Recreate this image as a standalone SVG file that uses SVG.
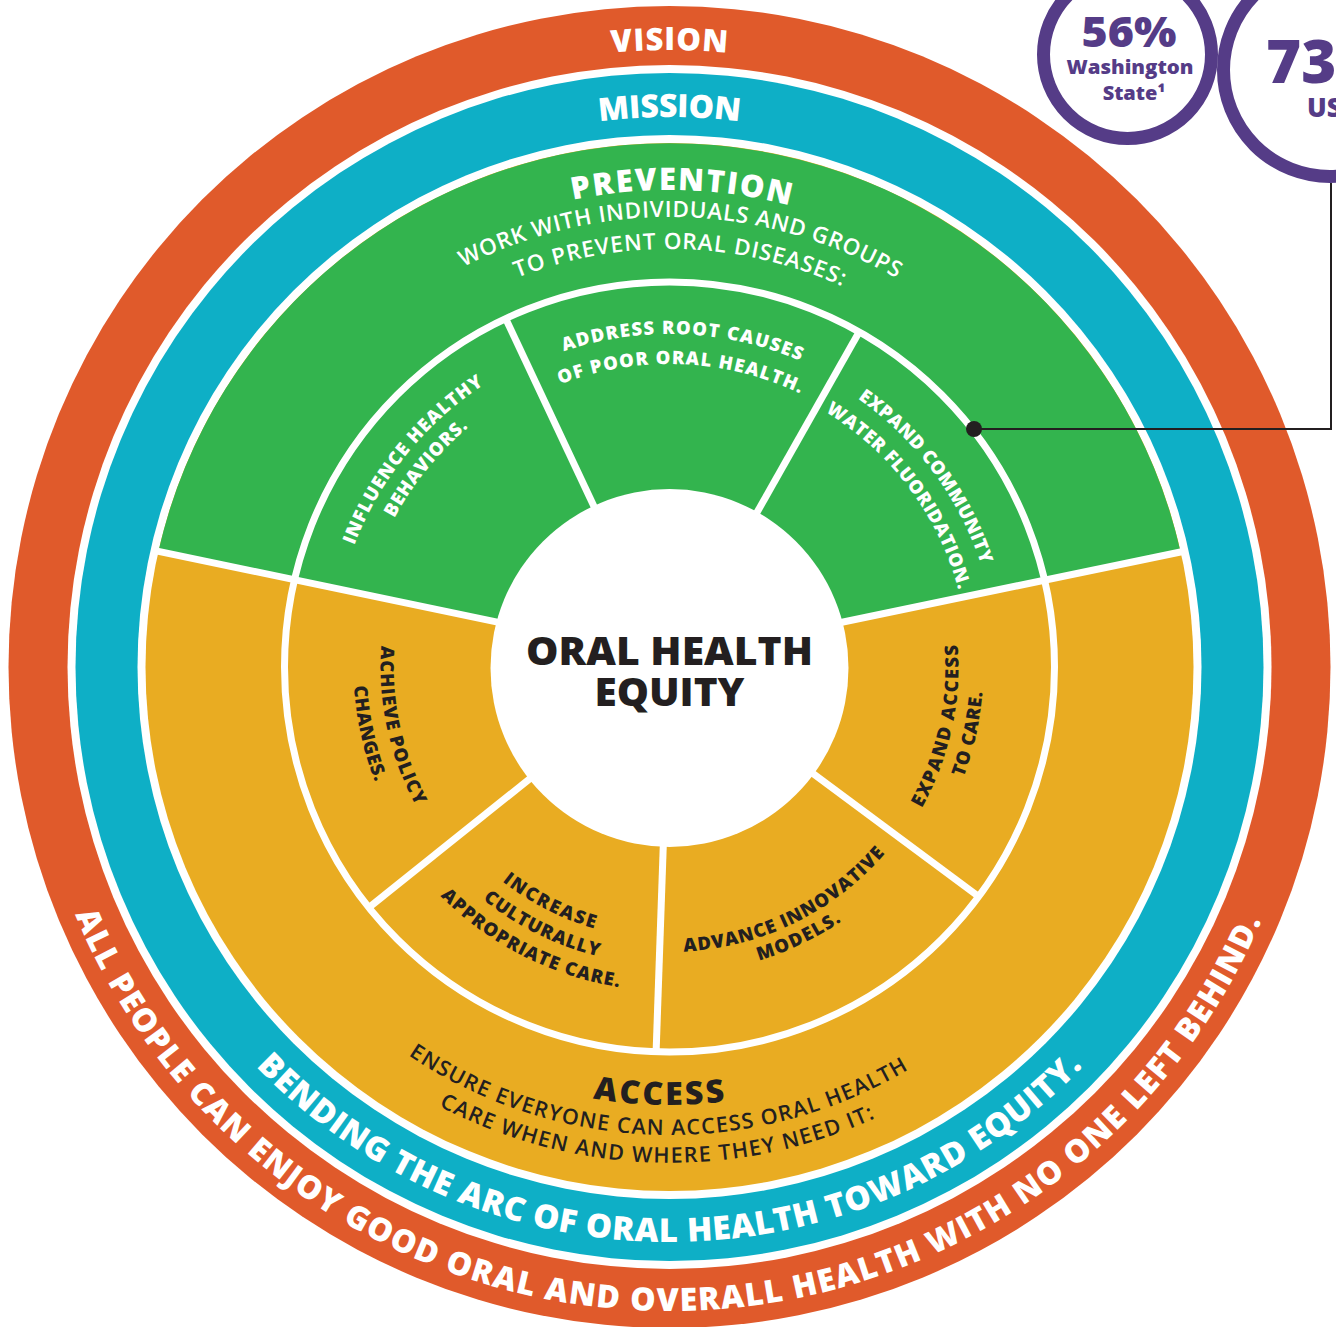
<svg xmlns="http://www.w3.org/2000/svg" width="1336" height="1327" viewBox="0 0 1336 1327">
<style>
.f{font-family:"Open Sans","Liberation Sans",sans-serif}
.b{font-weight:800}
.m{font-weight:600}
.w{fill:#ffffff}
.d{fill:#231f20}
.p{fill:#553c87}
.wl{stroke:#ffffff;stroke-width:7;fill:none}
</style>
<defs>
<path id="t617" d="M52.5,667 A617,617 0 0 1 1286.5,667"/>
<path id="t550" d="M119.5,667 A550,550 0 0 1 1219.5,667"/>
<path id="t477" d="M192.5,667 A477,477 0 0 1 1146.5,667"/>
<path id="t450" d="M219.5,667 A450,450 0 0 1 1119.5,667"/>
<path id="t418" d="M251.5,667 A418,418 0 0 1 1087.5,667"/>
<path id="t338" d="M331.5,667 A338,338 0 0 1 1007.5,667"/>
<path id="t333" d="M336.5,667 A333,333 0 0 1 1002.5,667"/>
<path id="t328" d="M341.5,667 A328,328 0 0 1 997.5,667"/>
<path id="t313" d="M356.5,667 A313,313 0 0 1 982.5,667"/>
<path id="t303" d="M366.5,667 A303,303 0 0 1 972.5,667"/>
<path id="t299" d="M370.5,667 A299,299 0 0 1 968.5,667"/>
<path id="b272" d="M397.5,667 A272,272 0 0 0 941.5,667"/>
<path id="b285" d="M384.5,667 A285,285 0 0 0 954.5,667"/>
<path id="b289" d="M380.5,667 A289,289 0 0 0 958.5,667"/>
<path id="b298" d="M371.5,667 A298,298 0 0 0 967.5,667"/>
<path id="b307" d="M362.5,667 A307,307 0 0 0 976.5,667"/>
<path id="b314" d="M355.5,667 A314,314 0 0 0 983.5,667"/>
<path id="b316" d="M353.5,667 A316,316 0 0 0 985.5,667"/>
<path id="b324" d="M345.5,667 A324,324 0 0 0 993.5,667"/>
<path id="b438" d="M231.5,667 A438,438 0 0 0 1107.5,667"/>
<path id="b468" d="M201.5,667 A468,468 0 0 0 1137.5,667"/>
<path id="b496" d="M173.5,667 A496,496 0 0 0 1165.5,667"/>
<path id="b575" d="M94.5,667 A575,575 0 0 0 1244.5,667"/>
<path id="b644" d="M25.5,667 A644,644 0 0 0 1313.5,667"/>
</defs>
<rect width="1336" height="1327" fill="#ffffff"/>

<g id="stats">
<g id="stat-wa">
<circle cx="1127.5" cy="54.5" r="84" fill="#ffffff" stroke="#553c87" stroke-width="13"/>
<text class="f b p" x="1129" y="46.5" font-size="42" text-anchor="middle" textLength="95" lengthAdjust="spacingAndGlyphs">56%</text>
<text class="f b p" x="1130" y="74" font-size="20" text-anchor="middle" textLength="127" lengthAdjust="spacingAndGlyphs">Washington</text>
<text class="f b p" x="1134" y="100" font-size="20" text-anchor="middle">State¹</text>
</g>
<g id="stat-us">
<circle cx="1330" cy="70" r="106.5" fill="#ffffff" stroke="#553c87" stroke-width="13"/>
<text class="f b p" x="1266" y="83" font-size="60">73</text>
<text class="f b p" x="1307" y="117" font-size="26">US</text>
</g>
</g>

<g id="vision-ring">
<circle cx="669.5" cy="667" r="661" fill="#e05a2b"/>
<circle cx="669.5" cy="667" r="602" fill="#ffffff"/>
<text class="f b w" font-size="31" text-anchor="middle"><textPath href="#t617" startOffset="50%" textLength="116" lengthAdjust="spacing">VISION</textPath></text>
<text class="f b w" font-size="32" text-anchor="middle" transform="rotate(0.3 669.5 667)"><textPath href="#b644" startOffset="50%" textLength="1508" lengthAdjust="spacing">ALL PEOPLE CAN ENJOY GOOD ORAL AND OVERALL HEALTH WITH NO ONE LEFT BEHIND.</textPath></text>
</g>

<g id="mission-ring">
<circle cx="669.5" cy="667" r="594" fill="#0eafc6"/>
<circle cx="669.5" cy="667" r="532" fill="#ffffff"/>
<text class="f b w" font-size="32" text-anchor="middle"><textPath href="#t550" startOffset="50%" textLength="141" lengthAdjust="spacing">MISSION</textPath></text>
<text class="f b w" font-size="33" text-anchor="middle"><textPath href="#b575" startOffset="50%" textLength="923" lengthAdjust="spacing">BENDING THE ARC OF ORAL HEALTH TOWARD EQUITY.</textPath></text>
</g>

<g id="access">
<circle cx="669.5" cy="667" r="524" fill="#e9ac22"/>
<text class="f b d" font-size="32" text-anchor="middle" transform="rotate(1.4 669.5 667)"><textPath href="#b438" startOffset="50%" textLength="133" lengthAdjust="spacing">ACCESS</textPath></text>
<text class="f m d" font-size="21.5" text-anchor="middle" transform="rotate(1.6 669.5 667)"><textPath href="#b468" startOffset="50%" textLength="528" lengthAdjust="spacing">ENSURE EVERYONE CAN ACCESS ORAL HEALTH</textPath></text>
<text class="f m d" font-size="21.5" text-anchor="middle" transform="rotate(1.6 669.5 667)"><textPath href="#b496" startOffset="50%" textLength="452" lengthAdjust="spacing">CARE WHEN AND WHERE THEY NEED IT:</textPath></text>
</g>

<g id="prevention">
<path d="M669.5,658 L158.4,551.3 A524,524 0 0 1 1180.6,551.9 Z" fill="#33b44e"/>
<text class="f b w" font-size="31" text-anchor="middle" transform="rotate(1.45 669.5 667)"><textPath href="#t477" startOffset="50%" textLength="219" lengthAdjust="spacing">PREVENTION</textPath></text>
<text class="f m w" font-size="22.5" text-anchor="middle" transform="rotate(1.5 669.5 667)"><textPath href="#t450" startOffset="50%" textLength="452" lengthAdjust="spacing">WORK WITH INDIVIDUALS AND GROUPS</textPath></text>
<text class="f m w" font-size="22.5" text-anchor="middle" transform="rotate(1.5 669.5 667)"><textPath href="#t418" startOffset="50%" textLength="334" lengthAdjust="spacing">TO PREVENT ORAL DISEASES:</textPath></text>
</g>

<g id="ring-lines">
<circle cx="669.5" cy="667" r="385" class="wl" stroke-width="8"/>
</g>

<g id="sector-influence">
<text class="f b w" font-size="18.5" text-anchor="middle" transform="rotate(-51.1 669.5 667)"><textPath href="#t338" startOffset="50%" textLength="210" lengthAdjust="spacing">INFLUENCE HEALTHY</textPath></text>
<text class="f b w" font-size="18.5" text-anchor="middle" transform="rotate(-50.8 669.5 667)"><textPath href="#t313" startOffset="50%" textLength="118" lengthAdjust="spacing">BEHAVIORS.</textPath></text>
</g>
<g id="sector-root-causes">
<text class="f b w" font-size="18.5" text-anchor="middle" transform="rotate(2.3 669.5 667)"><textPath href="#t333" startOffset="50%" textLength="242" lengthAdjust="spacing">ADDRESS ROOT CAUSES</textPath></text>
<text class="f b w" font-size="18.5" text-anchor="middle" transform="rotate(2.2 669.5 667)"><textPath href="#t303" startOffset="50%" textLength="247" lengthAdjust="spacing">OF POOR ORAL HEALTH.</textPath></text>
</g>
<g id="sector-fluoridation">
<text class="f b w" font-size="18.5" text-anchor="middle" transform="rotate(53.4 669.5 667)"><textPath href="#t328" startOffset="50%" textLength="210" lengthAdjust="spacing">EXPAND COMMUNITY</textPath></text>
<text class="f b w" font-size="18.5" text-anchor="middle" transform="rotate(53.2 669.5 667)"><textPath href="#t299" startOffset="50%" textLength="228" lengthAdjust="spacing">WATER FLUORIDATION.</textPath></text>
</g>
<g id="sector-policy">
<text class="f b d" font-size="18.5" text-anchor="middle" transform="rotate(77.75 669.5 667)"><textPath href="#b289" startOffset="50%" textLength="166" lengthAdjust="spacing">ACHIEVE POLICY</textPath></text>
<text class="f b d" font-size="18.5" text-anchor="middle" transform="rotate(77.6 669.5 667)"><textPath href="#b316" startOffset="50%" textLength="99" lengthAdjust="spacing">CHANGES.</textPath></text>
</g>
<g id="sector-cultural">
<text class="f b d" font-size="18.5" text-anchor="middle" transform="rotate(27 669.5 667)"><textPath href="#b272" startOffset="50%" textLength="104" lengthAdjust="spacing">INCREASE</textPath></text>
<text class="f b d" font-size="18.5" text-anchor="middle" transform="rotate(26.3 669.5 667)"><textPath href="#b298" startOffset="50%" textLength="130" lengthAdjust="spacing">CULTURALLY</textPath></text>
<text class="f b d" font-size="18.5" text-anchor="middle" transform="rotate(27 669.5 667)"><textPath href="#b324" startOffset="50%" textLength="204" lengthAdjust="spacing">APPROPRIATE CARE.</textPath></text>
</g>
<g id="sector-innovative">
<text class="f b d" font-size="18.5" text-anchor="middle" transform="rotate(-26 669.5 667)"><textPath href="#b285" startOffset="50%" textLength="230" lengthAdjust="spacing">ADVANCE INNOVATIVE</textPath></text>
<text class="f b d" font-size="18.5" text-anchor="middle" transform="rotate(-25.5 669.5 667)"><textPath href="#b307" startOffset="50%" textLength="92" lengthAdjust="spacing">MODELS.</textPath></text>
</g>
<g id="sector-expand-access">
<text class="f b d" font-size="18.5" text-anchor="middle" transform="rotate(-77.6 669.5 667)"><textPath href="#b289" startOffset="50%" textLength="170" lengthAdjust="spacing">EXPAND ACCESS</textPath></text>
<text class="f b d" font-size="18.5" text-anchor="middle" transform="rotate(-77.4 669.5 667)"><textPath href="#b314" startOffset="50%" textLength="88" lengthAdjust="spacing">TO CARE.</textPath></text>
</g>

<g id="dividers">
<line class="wl" x1="669.5" y1="658" x2="152.5" y2="550.1"/>
<line class="wl" x1="669.5" y1="658" x2="1186.5" y2="550.7"/>
<line class="wl" x1="669.5" y1="667" x2="506.2" y2="319.7"/>
<line class="wl" x1="669.5" y1="667" x2="859.1" y2="332.0"/>
<line class="wl" x1="669.5" y1="667" x2="370.8" y2="905.9"/>
<line class="wl" x1="669.5" y1="667" x2="656.1" y2="1051.8"/>
<line class="wl" x1="669.5" y1="667" x2="978.6" y2="896.5"/>
</g>

<g id="center">
<circle cx="669.5" cy="668" r="179" fill="#ffffff"/>
<text class="f b d" x="669.5" y="665" font-size="38" text-anchor="middle" textLength="287" lengthAdjust="spacingAndGlyphs">ORAL HEALTH</text>
<text class="f b d" x="669.5" y="706" font-size="38" text-anchor="middle" textLength="150" lengthAdjust="spacingAndGlyphs">EQUITY</text>
</g>

<g id="connectors">
<polyline points="974,429 1331,429 1331,183" fill="none" stroke="#231f20" stroke-width="2"/>
<circle cx="974" cy="429" r="8" fill="#231f20"/>
</g>
</svg>
